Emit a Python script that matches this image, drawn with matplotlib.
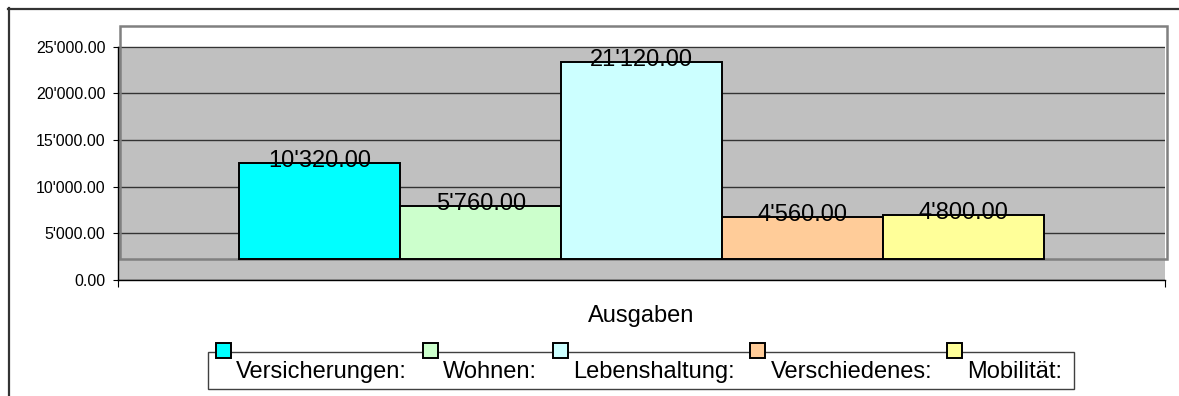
import numpy as np
import matplotlib.pyplot as plt
import matplotlib.transforms as mtransforms
from matplotlib.patches import Rectangle
from matplotlib.lines import Line2D
from matplotlib.ticker import FuncFormatter

plt.rcParams['font.family'] = ['Liberation Sans', 'DejaVu Sans']

# Daten
categories = ['Versicherungen:', 'Wohnen:', 'Lebenshaltung:', 'Verschiedenes:', 'Mobilität:']
values = [10320, 5760, 21120, 4560, 4800]
colors = ['#00FFFF', '#CCFFCC', '#CCFFFF', '#FFCC99', '#FFFF99']
yticks = [0, 5000, 10000, 15000, 20000, 25000]
group_label = 'Ausgaben'

W, H = 1179, 396


def fx(px):
    return px / W


def fy(py):
    return 1 - py / H


def fmt(v, pos=None):
    return f"{v:,.2f}".replace(',', "'")


fig = plt.figure(figsize=(W / 100, H / 100), dpi=100)

# Rahmen oben und links
fig.add_artist(Line2D([fx(8), 1], [fy(8.5), fy(8.5)], color='#333333', lw=1.6))
fig.add_artist(Line2D([fx(8.5), fx(8.5)], [fy(8), 0], color='#333333', lw=1.6))

ax = fig.add_axes([fx(118), fy(280), fx(1165) - fx(118), fy(26) - fy(280)])

# Skala: 25000 bei y=46.7 px, 0 bei y=280 px
px_per_unit = (280 - 46.67) / 25000
ytop = (280 - 26) / px_per_unit
depth = (280 - 259.3) / px_per_unit  # Tiefe der 3D-Rueckwand

bar_w_px = 160.8
span = (1165 - 118) / bar_w_px
x = np.arange(len(values))
ax.set_xlim(x.mean() - span / 2, x.mean() + span / 2)
ax.set_ylim(0, ytop)

ax.set_facecolor('#C0C0C0')
ax.axhspan(yticks[-1], ytop, color='white', zorder=0)
ax.set_axisbelow(True)
ax.yaxis.grid(True, color='#333333', lw=1)

# Rueckwand
blend = mtransforms.blended_transform_factory(ax.transAxes, ax.transData)
ax.add_patch(Rectangle((2 / 1047, depth), 1, ytop - depth, transform=blend,
                       fill=False, ec='#808080', lw=1.8, clip_on=False, zorder=1.5))

ax.bar(x, values, width=1, bottom=depth, color=colors, edgecolor='black',
       linewidth=1.4, zorder=3)
for xi, v in zip(x, values):
    ax.annotate(fmt(v), (xi, depth + v), xytext=(0, -2.9), textcoords='offset points',
                ha='center', va='baseline', fontsize=17, zorder=4)

for s in ['top', 'right']:
    ax.spines[s].set_visible(False)
for s in ['left', 'bottom']:
    ax.spines[s].set_color('black')
    ax.spines[s].set_linewidth(1)
ax.spines['left'].set_bounds(0, yticks[-1])

ax.set_yticks(yticks)
ax.yaxis.set_major_formatter(FuncFormatter(fmt))
ax.tick_params(axis='y', length=3.6, width=0.8, pad=5.5, labelsize=11.5)
ax.set_xticks(ax.get_xlim())
ax.set_xticklabels([])
ax.tick_params(axis='x', length=5, width=0.8)

ax.set_xlabel(group_label, fontsize=17)
ax.xaxis.set_label_coords(0.5, (280 - 322) / 254)
ax.xaxis.label.set_va('baseline')

# Legende
fig.add_artist(Rectangle((fx(207.5), fy(388.5)), fx(1074) - fx(207.5), fy(352) - fy(388.5),
                         fill=False, ec='#404040', lw=1))
legend_x = [215.7, 422.7, 553, 750, 947]
for lx, name, c in zip(legend_x, categories, colors):
    fig.add_artist(Rectangle((fx(lx), fy(357.5)), fx(15), 15 / H,
                             fc=c, ec='black', lw=1.4))
    fig.text(fx(lx + 20.5), fy(378), name, fontsize=17, ha='left', va='baseline')

fig.savefig('out.png', dpi=100)
